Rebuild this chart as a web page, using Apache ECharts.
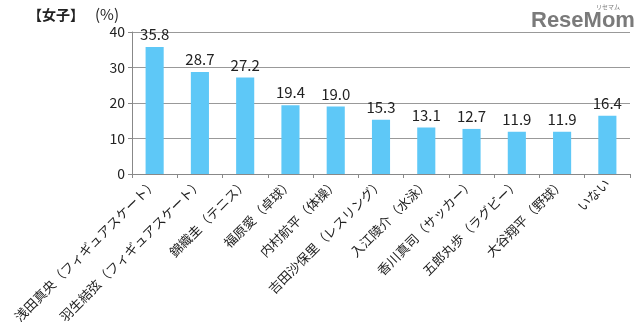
<!DOCTYPE html>
<html><head><meta charset="utf-8">
<script src="https://cdn.jsdelivr.net/npm/echarts@6/dist/echarts.min.js"></script>
<style>html,body{margin:0;padding:0;background:#fff}#c{width:640px;height:330px}</style>
</head><body><div id="c"></div>
<script>
const categories = ['浅田真央（フィギュアスケート）','羽生結弦（フィギュアスケート）','錦織圭（テニス）','福原愛（卓球）','内村航平（体操）','吉田沙保里（レスリング）','入江陵介（水泳）','香川真司（サッカー）','五郎丸歩（ラグビー）','大谷翔平（野球）','いない'];
const values = [35.8,28.7,27.2,19.4,19.0,15.3,13.1,12.7,11.9,11.9,16.4];
const yTicks = [0,10,20,30,40];

const FONT = '"Noto Sans CJK JP", "DejaVu Sans", sans-serif';
const chart = echarts.init(document.getElementById('c'), null, {renderer:'canvas'});
chart.setOption({
  animation:false,
  backgroundColor:'#fff',
  grid:{left:132,right:10,top:32,bottom:156,containLabel:false},
  graphic:[
    {type:'text',left:28,top:8,style:{text:'【女子】',font:'bold 14px '+FONT,fill:'#222'}},
    {type:'text',left:95,top:7,style:{text:'(%)',font:'15px '+FONT,fill:'#222'}},
    {type:'text',left:530,top:9,z:10,style:{text:'ReseMom',font:'bold 22px "Liberation Sans", Arial, sans-serif',fill:'#7a7a7a',stroke:'#fff',lineWidth:2}},
    {type:'text',left:596,top:4,z:10,style:{text:'リセマム',font:'6px '+FONT,fill:'#777'}}
  ],
  xAxis:{
    type:'category',data:categories,
    axisLine:{lineStyle:{color:'#888',width:1}},
    axisTick:{show:true,length:4,lineStyle:{color:'#888'}},
    axisLabel:{rotate:45,interval:0,fontSize:13,color:'#222',fontFamily:FONT,margin:7}
  },
  yAxis:{
    type:'value',min:yTicks[0],max:yTicks[yTicks.length-1],interval:10,
    axisLine:{show:true,lineStyle:{color:'#888'}},
    axisTick:{show:true,length:4,lineStyle:{color:'#888'}},
    splitLine:{lineStyle:{color:'#999',width:1}},
    axisLabel:{fontSize:14,color:'#222',fontFamily:FONT,margin:7}
  },
  series:[{
    type:'bar',data:values,barWidth:'40%',
    itemStyle:{color:'#5EC8F7'},
    label:{show:true,position:'top',distance:5,fontSize:15,color:'#222',fontFamily:FONT,
      formatter:p=>p.value.toFixed(1)}
  }]
});
</script></body></html>
